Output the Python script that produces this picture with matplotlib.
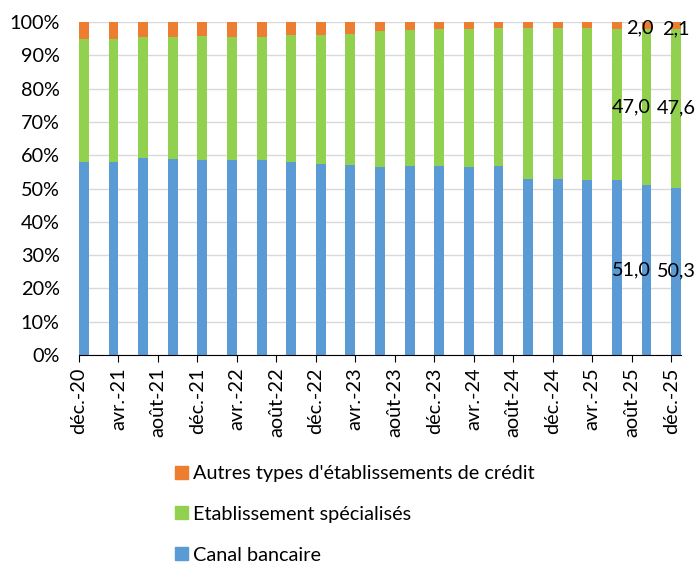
import matplotlib
matplotlib.use('Agg')
import matplotlib.pyplot as plt
from matplotlib.patches import Patch
import numpy as np
import pandas as pd

plt.rcParams['font.family'] = ['Lato', 'DejaVu Sans']

# quarterly observations, shares in %
quarters = ['2020-12', '2021-03', '2021-06', '2021-09', '2021-12', '2022-03', '2022-06',
            '2022-09', '2022-12', '2023-03', '2023-06', '2023-09', '2023-12', '2024-03',
            '2024-06', '2024-09', '2024-12', '2025-03', '2025-06', '2025-09', '2025-12']
canal = [57.9, 58.1, 59.2, 58.9, 58.7, 58.7, 58.7, 58.1, 57.3, 57.2, 56.6,
         56.9, 56.9, 56.6, 56.9, 53.0, 52.9, 52.7, 52.6, 51.0, 50.3]
specialises = [37.0, 36.8, 36.2, 36.6, 37.1, 36.8, 36.9, 37.9, 38.9, 39.3, 40.6,
               40.6, 40.9, 41.2, 41.2, 45.2, 45.3, 45.4, 45.4, 47.0, 47.6]
autres = [5.1, 5.1, 4.6, 4.5, 4.2, 4.5, 4.4, 4.0, 3.8, 3.5, 2.8,
          2.5, 2.2, 2.2, 1.9, 1.8, 1.8, 1.9, 2.0, 2.0, 2.1]

tick_labels = ['déc.-20', 'avr.-21', 'août-21', 'déc.-21', 'avr.-22', 'août-22',
               'déc.-22', 'avr.-23', 'août-23', 'déc.-23', 'avr.-24', 'août-24',
               'déc.-24', 'avr.-25', 'août-25', 'déc.-25']
labelled = [19, 20]   # bars carrying data labels

BLUE, GREEN, ORANGE = '#5B9BD5', '#92D050', '#ED7D31'
FS = 14.3

# month index on a date axis (bar centred in its month slot)
start = pd.Period('2020-12', freq='M')
months = np.array([(pd.Period(q, freq='M') - start).n for q in quarters])
x = months + 0.5
canal = np.array(canal)
specialises = np.array(specialises)
autres = np.array(autres)

fig = plt.figure(figsize=(6.96, 5.66), dpi=100)
ax = fig.add_axes([0.1135, 0.3728, 0.865, 0.5883])

ax.bar(x, canal, width=1.0, color=BLUE, zorder=2)
ax.bar(x, specialises, width=1.0, bottom=canal, color=GREEN, zorder=2)
ax.bar(x, autres, width=1.0, bottom=canal + specialises, color=ORANGE, zorder=2)

ax.set_ylim(0, 100)
ax.set_yticks(range(0, 101, 10))
ax.set_yticklabels([f'{v}%' for v in range(0, 101, 10)])
ax.set_xlim(0, 61)
ax.set_xticks(range(0, 61, 4))
ax.set_xticklabels(tick_labels, rotation=90)

ax.grid(axis='y', color='#D9D9D9', linewidth=1, zorder=0)
for s in ['left', 'right', 'top']:
    ax.spines[s].set_visible(False)
ax.spines['bottom'].set_color('#000000')
ax.spines['bottom'].set_zorder(3)
ax.tick_params(axis='y', length=0, pad=14, labelsize=FS, colors='#000000')
ax.tick_params(axis='x', length=5, direction='out', pad=4, labelsize=FS)

# data labels on the last two bars
shift = {19: (-15, -7), 20: (0, 0)}
for i in labelled:
    dx, dx_top = shift[i]
    mids = [canal[i] / 2, canal[i] + specialises[i] / 2,
            canal[i] + specialises[i] + autres[i] / 2]
    vals = [canal[i], specialises[i], autres[i]]
    offs = [dx, dx, dx_top]
    for k, (y, v, o) in enumerate(zip(mids, vals, offs)):
        txt = f'{v:.1f}'.replace('.', ',')
        dy = -3 if k == 2 else 0
        ax.annotate(txt, xy=(x[i], y), xytext=(o, dy), textcoords='offset pixels',
                    ha='center', va='center', fontsize=FS, zorder=4)

handles = [Patch(color=ORANGE), Patch(color=GREEN), Patch(color=BLUE)]
names = ["Autres types d'établissements de crédit", 'Etablissement spécialisés', 'Canal bancaire']
fig.legend(handles, names, loc='upper left', bbox_to_anchor=(175 / 696, 1 - 465 / 566),
           frameon=False, fontsize=FS, borderpad=0, borderaxespad=0,
           handlelength=0.63, handleheight=0.63, handletextpad=0.3, labelspacing=1.2)

fig.savefig('out.png', dpi=100)
